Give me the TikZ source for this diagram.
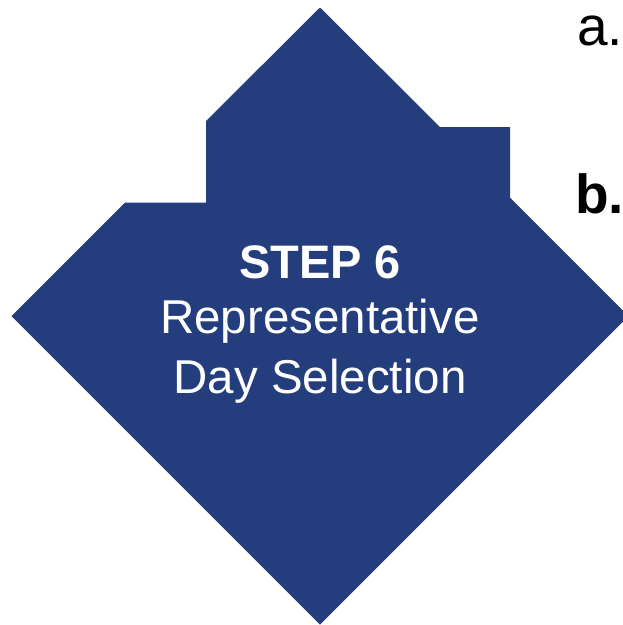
\documentclass[tikz,border=0pt]{standalone}
\usepackage{fontspec}
\setmainfont{Liberation Sans}
\definecolor{stepblue}{RGB}{36,61,124}
\begin{document}
\begin{tikzpicture}[x=1pt,y=-1pt,
  steptext/.style={text=white,anchor=base,inner sep=0pt,font=\fontsize{47.5}{55}\selectfont},
  itemlabel/.style={text=black,anchor=base west,inner sep=0pt,font=\fontsize{55}{60}\selectfont}]
\useasboundingbox (0,0) rectangle (623,625);
\fill[stepblue] (320,7.5) -- (440,127) -- (510,127) -- (510,197.5) -- (628.5,316)
  -- (320,624.5) -- (11.5,316) -- (125,202.5) -- (206,202.5) -- (206,121) -- cycle;
\node[steptext,font=\fontsize{47}{55}\selectfont\bfseries] (title) at (320,278) {STEP 6};
\node[steptext] (line1) at (320,333) {Representative};
\node[steptext] (line2) at (320,393) {Day Selection};
\node[itemlabel] (a) at (577,45) {a.};
\node[itemlabel,font=\fontsize{55}{60}\selectfont\bfseries] (b) at (575,213) {b.};
\end{tikzpicture}
\end{document}
